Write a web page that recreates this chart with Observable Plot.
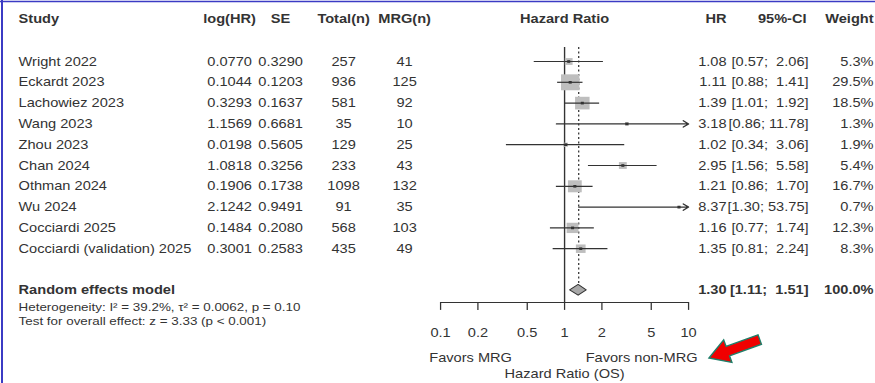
<!DOCTYPE html>
<html>
<head>
<meta charset="utf-8">
<script src="https://cdn.jsdelivr.net/npm/d3@7"></script>
<script src="https://cdn.jsdelivr.net/npm/@observablehq/plot@0.6"></script>
<style>
  html, body { margin: 0; padding: 0; background: #fff; }
  #wrap { position: relative; width: 875px; height: 383px; overflow: hidden; background: #fff; }
  #wrap > svg { display: block; }
  #deco { position: absolute; left: 0; top: 0; pointer-events: none; }
</style>
</head>
<body>
<div id="wrap"></div>
<script>
// ---- Study-level data ----
const studies = ["Wright 2022", "Eckardt 2023", "Lachowiez 2023", "Wang 2023", "Zhou 2023",
                 "Chan 2024", "Othman 2024", "Wu 2024", "Cocciardi 2025", "Cocciardi (validation) 2025"];
const logHR  = [0.0770, 0.1044, 0.3293, 1.1569, 0.0198, 1.0818, 0.1906, 2.1242, 0.1484, 0.3001];
const seLog  = [0.3290, 0.1203, 0.1637, 0.6681, 0.5605, 0.3256, 0.1738, 0.9491, 0.2080, 0.2583];
const totalN = [257, 936, 581, 35, 129, 233, 1098, 91, 568, 435];
const mrgN   = [41, 125, 92, 10, 25, 43, 132, 35, 103, 49];
const hr     = [1.08, 1.11, 1.39, 3.18, 1.02, 2.95, 1.21, 8.37, 1.16, 1.35];
const ciLow  = [0.57, 0.88, 1.01, 0.86, 0.34, 1.56, 0.86, 1.30, 0.77, 0.81];
const ciHigh = [2.06, 1.41, 1.92, 11.78, 3.06, 5.58, 1.70, 53.75, 1.74, 2.24];
const weight = [5.3, 29.5, 18.5, 1.3, 1.9, 5.4, 16.7, 0.7, 12.3, 8.3];

// ---- Pooled (random effects) result ----
const pooledLabel = "Random effects model";
const pooledHR = 1.30, pooledLow = 1.11, pooledHigh = 1.51, pooledWeight = 100.0;
const hetText  = "Heterogeneity: I² = 39.2%, τ² = 0.0062, p = 0.10";
const testText = "Test for overall effect: z = 3.33 (p < 0.001)";

// ---- Axis ----
const tickValues = [0.1, 0.2, 0.5, 1, 2, 5, 10];
const tickLabels = ["0.1", "0.2", "0.5", "1", "2", "5", "10"];
const xMin = 0.1, xMax = 10;
const headers = {study: "Study", te: "log(HR)", se: "SE", total: "Total(n)", mrg: "MRG(n)",
                 plot: "Hazard Ratio", hr: "HR", ci: "95%-CI", w: "Weight"};
const labelLeft = "Favors MRG", labelRight = "Favors non-MRG", xTitle = "Hazard Ratio (OS)";

// ---- Layout ----
const SX = 1.15;                 // horizontal stretch of the figure
const W = 875 / SX;              // plot units across
const px = v => v / SX;          // page x -> plot units
const ROW0 = 61, ROW = 20.8;     // y of first study row and row spacing (px)
const rowAt = py => (py - ROW0) / ROW;
const HEAD = rowAt(18), SUMROW = 11, HETROW = rowAt(307), TESTROW = rowAt(321);
const AXISROW = rowAt(302), TICKROW = rowAt(332), FAVROW = rowAt(357), TITLEROW = rowAt(373);
const REFTOP = rowAt(47);
const F = 14.6 / SX, FS = 13.4 / SX;
const ink = "#333";

const fmtCI = (lo, hi) => {
  const h = hi.toFixed(2);
  return "[" + lo.toFixed(2) + ";" + (h.length < 5 ? "\u00a0 " : " ") + h + "]";
};

const rows = studies.map((s, i) => ({
  i, study: s, te: logHR[i].toFixed(4), se: seLog[i].toFixed(4),
  total: String(totalN[i]), mrg: String(mrgN[i]),
  hr: hr[i], lower: ciLow[i], upper: ciHigh[i], weight: weight[i],
  hrText: hr[i].toFixed(2), ciText: fmtCI(ciLow[i], ciHigh[i]), wText: weight[i].toFixed(1) + "%"
}));
const inside = rows.filter(d => d.upper <= xMax);
const beyond = rows.filter(d => d.upper > xMax);
const diamond = [
  {x: pooledLow, y1: SUMROW, y2: SUMROW},
  {x: pooledHR, y1: SUMROW - 0.26, y2: SUMROW + 0.26},
  {x: pooledHigh, y1: SUMROW, y2: SUMROW}
];

// text column helper: pos is the page x of the anchor
const col = (data, text, pos, anchor, extra = {}) =>
  Plot.text(data, {y: "i", text, frameAnchor: "left", dx: px(pos), textAnchor: anchor,
                   fill: ink, fontSize: F, ...extra});
const one = (label, y, pos, anchor, extra = {}) =>
  Plot.text([label], {y, text: d => d, frameAnchor: "left", dx: px(pos), textAnchor: anchor,
                      fill: ink, fontSize: F, ...extra});
const bold = {fontWeight: "bold"};

const chart = Plot.plot({
  width: W, height: 383, margin: 0,
  x: {type: "log", domain: [xMin, xMax], range: [px(440), px(688)], axis: null},
  y: {domain: [0, 9], range: [ROW0, ROW0 + 9 * ROW], axis: null},
  r: {type: "sqrt", domain: [0, d3.max(weight)], range: [0, 9]},
  style: {fontFamily: "'Liberation Sans', Arial, sans-serif", fontSize: F + "px", background: "#fff", color: ink},
  marks: [
    // headers
    one(headers.study, HEAD, 18, "start", bold),
    one(headers.te, HEAD, 229, "middle", bold),
    one(headers.se, HEAD, 280, "middle", bold),
    one(headers.total, HEAD, 343, "middle", bold),
    one(headers.mrg, HEAD, 404, "middle", bold),
    Plot.text([headers.plot], {x: 1, y: HEAD, text: d => d, fill: ink, fontSize: F, fontWeight: "bold"}),
    one(headers.hr, HEAD, 726, "end", bold),
    one(headers.ci, HEAD, 806, "end", bold),
    one(headers.w, HEAD, 873, "end", bold),

    // study columns
    col(rows, "study", 18, "start"),
    col(rows, "te", 229, "middle"),
    col(rows, "se", 280, "middle"),
    col(rows, "total", 343, "middle"),
    col(rows, "mrg", 404, "middle"),
    col(rows, "hrText", 726, "end"),
    col(rows, "ciText", 808, "end"),
    col(rows, "wText", 873, "end"),

    // pooled row and statistics
    one(pooledLabel, SUMROW, 18, "start", bold),
    one(pooledHR.toFixed(2), SUMROW, 726, "end", bold),
    one(fmtCI(pooledLow, pooledHigh), SUMROW, 808, "end", bold),
    one(pooledWeight.toFixed(1) + "%", SUMROW, 873, "end", bold),
    one(hetText, HETROW, 18, "start", {fontSize: FS}),
    one(testText, TESTROW, 18, "start", {fontSize: FS}),

    // reference lines
    Plot.ruleX([1], {y1: REFTOP, y2: AXISROW, stroke: ink, strokeWidth: 1.2}),
    Plot.ruleX([pooledHR], {y1: REFTOP, y2: SUMROW - 0.26, stroke: ink, strokeDasharray: "2,2.5", strokeWidth: 1.1}),

    // study squares, intervals and estimates
    Plot.dot(rows, {x: "hr", y: "i", r: "weight", symbol: "square", fill: "#bebebe"}),
    Plot.ruleY(inside, {y: "i", x1: "lower", x2: "upper", stroke: ink, strokeWidth: 1.2}),
    Plot.arrow(beyond, {x1: "lower", x2: () => xMax, y1: "i", y2: "i", stroke: ink, strokeWidth: 1.2,
                        headLength: 7, headAngle: 70}),
    Plot.dot(rows, {x: "hr", y: "i", r: 1.5, symbol: "square", fill: ink}),

    // pooled diamond
    Plot.areaY(diamond, {x: "x", y1: "y1", y2: "y2", fill: "#a8a8a8", stroke: ink, strokeWidth: 1}),

    // axis
    Plot.ruleY([AXISROW], {x1: xMin, x2: xMax, stroke: ink, strokeWidth: 1.1}),
    Plot.ruleX(tickValues, {y1: AXISROW, y2: AXISROW + 0.38, stroke: ink, strokeWidth: 1.1}),
    Plot.text(tickValues, {x: d => d, y: TICKROW, text: (d, i) => tickLabels[i], fill: ink, fontSize: F}),
    one(labelLeft, FAVROW, 470, "middle"),
    one(labelRight, FAVROW, 641, "middle"),
    Plot.text([xTitle], {x: 1, y: TITLEROW, text: d => d, fill: ink, fontSize: F})
  ]
});

chart.setAttribute("width", 875);
chart.setAttribute("height", 383);
chart.setAttribute("preserveAspectRatio", "none");
chart.style.width = "875px";
chart.style.height = "383px";
chart.style.maxWidth = "none";
document.getElementById("wrap").appendChild(chart);

// frame edges and pointer arrow drawn on top of the chart
const deco = d3.select("#wrap").append("svg").attr("id", "deco")
  .attr("width", 875).attr("height", 383);
deco.append("line").attr("x1", 2).attr("x2", 2).attr("y1", 0).attr("y2", 383)
  .attr("stroke", "#3b3bc4").attr("stroke-width", 2);
deco.append("line").attr("x1", 0).attr("x2", 875).attr("y1", 1.5).attr("y2", 1.5)
  .attr("stroke", "#3b3bc4").attr("stroke-width", 1.5);
deco.append("polygon")
  .attr("points", "0,0 20,-12 20,-5 54,-5 54,5 20,5 20,12")
  .attr("transform", "translate(709,358) rotate(-20)")
  .attr("fill", "#f00000").attr("stroke", "#1f7f6a").attr("stroke-width", 1.4)
  .attr("stroke-linejoin", "miter");
</script>
</body>
</html>
